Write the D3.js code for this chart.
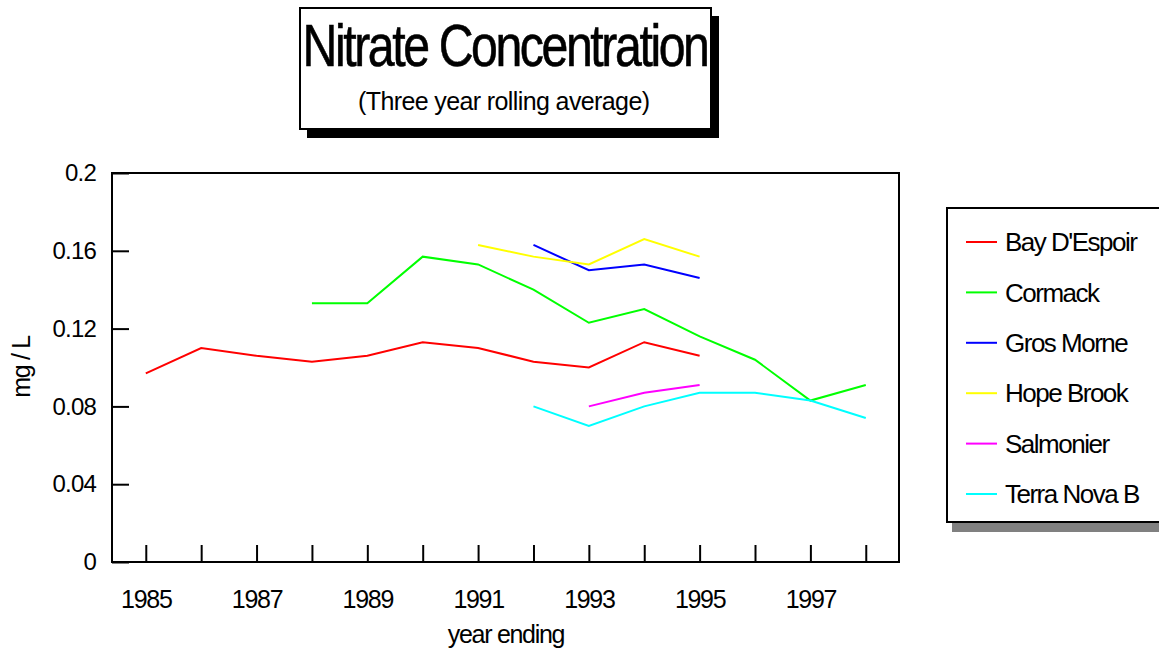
<!DOCTYPE html>
<html lang="en">
  <head>
    <meta charset="UTF-8" />
    <title>Nitrate Concentration</title>
    <script src="https://d3js.org/d3.v7.min.js"></script>
    <style>
      body {
        margin: 0;
        background-color: white;
        font-family: "Liberation Sans", Arial, sans-serif;
      }
      svg text {
        fill: black;
      }
    </style>
  </head>
  <body>
    <svg width="1159" height="653"></svg>
    <script>
      // years on the x axis (year ending)
      const years = [1985, 1986, 1987, 1988, 1989, 1990, 1991, 1992, 1993, 1994, 1995, 1996, 1997, 1998];
      const yTicks = [0, 0.04, 0.08, 0.12, 0.16, 0.2];
      const yTickLabels = ["0", "0.04", "0.08", "0.12", "0.16", "0.2"];

      // series values, null where there is no reading
      const bayDEspoir = [0.097, 0.11, 0.106, 0.103, 0.106, 0.113, 0.11, 0.103, 0.1, 0.113, 0.106, null, null, null];
      const cormack = [null, null, null, 0.133, 0.133, 0.157, 0.153, 0.14, 0.123, 0.13, 0.116, 0.104, 0.083, 0.091];
      const grosMorne = [null, null, null, null, null, null, null, 0.163, 0.15, 0.153, 0.146, null, null, null];
      const hopeBrook = [null, null, null, null, null, null, 0.163, 0.157, 0.153, 0.166, 0.157, null, null, null];
      const salmonier = [null, null, null, null, null, null, null, null, 0.08, 0.087, 0.091, null, null, null];
      const terraNovaB = [null, null, null, null, null, null, null, 0.08, 0.07, 0.08, 0.087, 0.087, 0.083, 0.074];

      const seriesNames = ["Bay D'Espoir", "Cormack", "Gros Morne", "Hope Brook", "Salmonier", "Terra Nova B"];
      const seriesValues = [bayDEspoir, cormack, grosMorne, hopeBrook, salmonier, terraNovaB];
      const seriesColors = ["#ff0000", "#00ff00", "#0000ff", "#ffff00", "#ff00ff", "#00ffff"];

      const svg = d3.select("svg");
      svg.append("rect").attr("width", 1159).attr("height", 653).attr("fill", "white");

      // plot area
      const plot = { left: 112, right: 899, top: 173, bottom: 562 };
      const x = d3.scaleLinear().domain([1984.39, 1998.6]).range([plot.left, plot.right]);
      const y = d3.scaleLinear().domain([0, 0.2]).range([plot.bottom, plot.top]);

      // title box with shadow
      svg.append("rect").attr("x", 307).attr("y", 16).attr("width", 412).attr("height", 122).attr("fill", "black");
      svg.append("rect").attr("x", 300).attr("y", 8).attr("width", 411).attr("height", 121)
        .attr("fill", "white").attr("stroke", "black").attr("stroke-width", 2);
      svg.append("text").attr("x", 505).attr("y", 66).attr("text-anchor", "middle")
        .attr("font-size", 60).attr("letter-spacing", -3)
        .attr("textLength", 405).attr("lengthAdjust", "spacingAndGlyphs")
        .attr("stroke", "black").attr("stroke-width", 0.6)
        .text("Nitrate Concentration");
      svg.append("text").attr("x", 504).attr("y", 110).attr("text-anchor", "middle")
        .attr("font-size", 25).attr("textLength", 292).attr("lengthAdjust", "spacing")
        .text("(Three year rolling average)");

      // frame
      svg.append("rect").attr("x", plot.left).attr("y", plot.top)
        .attr("width", plot.right - plot.left).attr("height", plot.bottom - plot.top)
        .attr("fill", "none").attr("stroke", "black").attr("stroke-width", 2);

      // x axis, ticks point inward
      const xAxis = d3.axisBottom(x)
        .tickValues(years)
        .tickFormat((d) => (d % 2 === 1 ? String(d) : ""))
        .tickSizeInner(-17)
        .tickSizeOuter(0)
        .tickPadding(28);
      const gx = svg.append("g").attr("transform", `translate(0,${plot.bottom})`).call(xAxis);
      gx.select(".domain").remove();
      gx.selectAll("line").attr("stroke", "black").attr("stroke-width", 2);
      gx.selectAll("text").attr("font-size", 25).attr("letter-spacing", -1.3)
        .attr("font-family", "Liberation Sans, Arial, sans-serif").attr("fill", "black");

      // y axis
      const yAxis = d3.axisLeft(y)
        .tickValues(yTicks)
        .tickFormat((d, i) => yTickLabels[i])
        .tickSizeInner(-17)
        .tickSizeOuter(0)
        .tickPadding(16);
      const gy = svg.append("g").attr("transform", `translate(${plot.left},0)`).call(yAxis);
      gy.select(".domain").remove();
      gy.selectAll("line").attr("stroke", "black").attr("stroke-width", 2);
      gy.selectAll("text").attr("font-size", 24).attr("letter-spacing", -0.8)
        .attr("font-family", "Liberation Sans, Arial, sans-serif").attr("fill", "black");

      // axis titles
      svg.append("text").attr("transform", "translate(30,367) rotate(-90)").attr("text-anchor", "middle")
        .attr("font-size", 25).attr("letter-spacing", -1.3).text("mg / L");
      svg.append("text").attr("x", 506).attr("y", 643).attr("text-anchor", "middle")
        .attr("font-size", 25).attr("letter-spacing", -1.3).text("year ending");

      // lines
      const line = d3.line()
        .defined((d) => d.v !== null)
        .x((d) => x(d.year))
        .y((d) => y(d.v));

      seriesValues.forEach((vals, i) => {
        const pts = years.map((yr, j) => ({ year: yr, v: vals[j] }));
        svg.append("path").datum(pts)
          .attr("d", line)
          .attr("fill", "none")
          .attr("stroke", seriesColors[i])
          .attr("stroke-width", 2);
      });

      // legend with grey shadow
      const legend = { x: 947, y: 208, w: 220, h: 314 };
      svg.append("rect").attr("x", legend.x + 5).attr("y", legend.y + 5).attr("width", legend.w).attr("height", legend.h + 5)
        .attr("fill", "#808080");
      svg.append("rect").attr("x", legend.x).attr("y", legend.y).attr("width", legend.w).attr("height", legend.h)
        .attr("fill", "white").attr("stroke", "black").attr("stroke-width", 2);

      const rows = svg.selectAll(".legend-row").data(seriesNames).enter().append("g")
        .attr("class", "legend-row")
        .attr("transform", (d, i) => `translate(0,${242 + i * 50.4})`);
      rows.append("line").attr("x1", 966).attr("x2", 997).attr("y1", 0).attr("y2", 0)
        .attr("stroke", (d, i) => seriesColors[i]).attr("stroke-width", 2);
      rows.append("text").attr("x", 1005).attr("y", 0).attr("dy", "0.35em")
        .attr("font-size", 26).attr("letter-spacing", -1.5).text((d) => d);
    </script>
  </body>
</html>
